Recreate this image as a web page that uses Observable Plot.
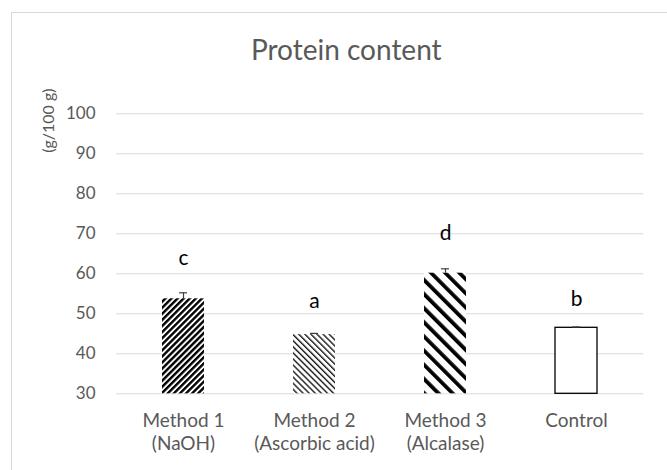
<!DOCTYPE html>
<html>
<head>
<meta charset="utf-8">
<script src="https://cdn.jsdelivr.net/npm/d3@7"></script>
<script src="https://cdn.jsdelivr.net/npm/@observablehq/plot@0.6"></script>
<style>
  html, body { margin: 0; padding: 0; background: #fff; }
  #chart svg { display: block; }
</style>
</head>
<body>
<div id="chart"></div>
<script>
const categories = ["Method 1\n(NaOH)", "Method 2\n(Ascorbic acid)", "Method 3\n(Alcalase)", "Control"];
const values = [53.75, 44.8, 60.15, 46.5];
const errors = [1.5, 0.3, 1.1, 0.2];
const letters = ["c", "a", "d", "b"];
const letterPos = [63.9, 53.2, 70.2, 53.7];
const fills = ["url(#pM1)", "url(#pM2)", "url(#pM3)", "#ffffff"];
const strokes = ["none", "none", "none", "#000000"];
const yTicks = [30, 40, 50, 60, 70, 80, 90, 100];
const title = "Protein content";
const yLabel = "(g/100 g)";

const rows = categories.map((c, i) => ({
  cat: c, value: values[i], err: errors[i], letter: letters[i], lpos: letterPos[i],
  fill: fills[i], stroke: strokes[i]
}));

const FONT = "Lato, 'Open Sans', sans-serif";
const GREY = "#595959";

const plot = Plot.plot({
  width: 667,
  height: 470,
  marginLeft: 116,
  marginRight: 23.5,
  marginTop: 113.3,
  marginBottom: 76.7,
  style: { fontFamily: FONT, background: "#fff", overflow: "visible" },
  x: { domain: categories, paddingInner: 0.68, paddingOuter: 0.34, label: null },
  y: { domain: [30, 100], label: null },
  color: { type: "identity" },
  marks: [
    Plot.gridY(yTicks, { stroke: "#d9d9d9", strokeOpacity: 1, strokeWidth: 1 }),
    Plot.barY(rows, { x: "cat", y1: 30, y2: "value", fill: "fill", stroke: "stroke", strokeWidth: 1.3 }),
    Plot.ruleX(rows, { x: "cat", y1: "value", y2: d => d.value + d.err, stroke: "#404040", strokeWidth: 1.2 }),
    Plot.tickY(rows, { x: "cat", y: d => d.value + d.err, stroke: "#404040", strokeWidth: 1.2, insetLeft: 17, insetRight: 17 }),
    Plot.text(rows, { x: "cat", y: "lpos", text: "letter", fill: "#000", fontSize: 21, lineAnchor: "middle" }),
    Plot.axisY({ ticks: yTicks, tickSize: 0, tickPadding: 21, fontSize: 17, color: GREY, label: null }),
    Plot.axisX({ tickSize: 0, tickPadding: 17, fontSize: 19, color: GREY, lineHeight: 1.22, label: null }),
    Plot.text([title], { frameAnchor: "top", text: d => d, dx: -34, dy: -62.6, fontSize: 28, fill: GREY, lineAnchor: "middle" }),
    Plot.text([yLabel], { frameAnchor: "top-left", text: d => d, dx: -68, dy: 39, rotate: -90, fontSize: 16, fill: GREY, lineAnchor: "middle" })
  ]
});

const svg = d3.select(plot);
const defs = svg.insert("defs", ":first-child");
function stripes(id, period, thick, angle, color) {
  const p = defs.append("pattern")
    .attr("id", id)
    .attr("patternUnits", "userSpaceOnUse")
    .attr("width", period).attr("height", period)
    .attr("patternTransform", `rotate(${angle})`);
  p.append("rect").attr("width", period).attr("height", period).attr("fill", "#fff");
  p.append("rect").attr("width", thick).attr("height", period).attr("fill", color);
}
stripes("pM1", 4.3, 2.4, 45, "#000");
stripes("pM2", 4.3, 1.4, -45, "#1a1a1a");
stripes("pM3", 10, 3.8, -45, "#000");

svg.insert("rect", "defs + *")
  .attr("x", 11.5).attr("y", 12.5)
  .attr("width", 700).attr("height", 500)
  .attr("fill", "none").attr("stroke", "#d9d9d9").attr("stroke-width", 1);

document.getElementById("chart").appendChild(plot);
</script>
</body>
</html>
